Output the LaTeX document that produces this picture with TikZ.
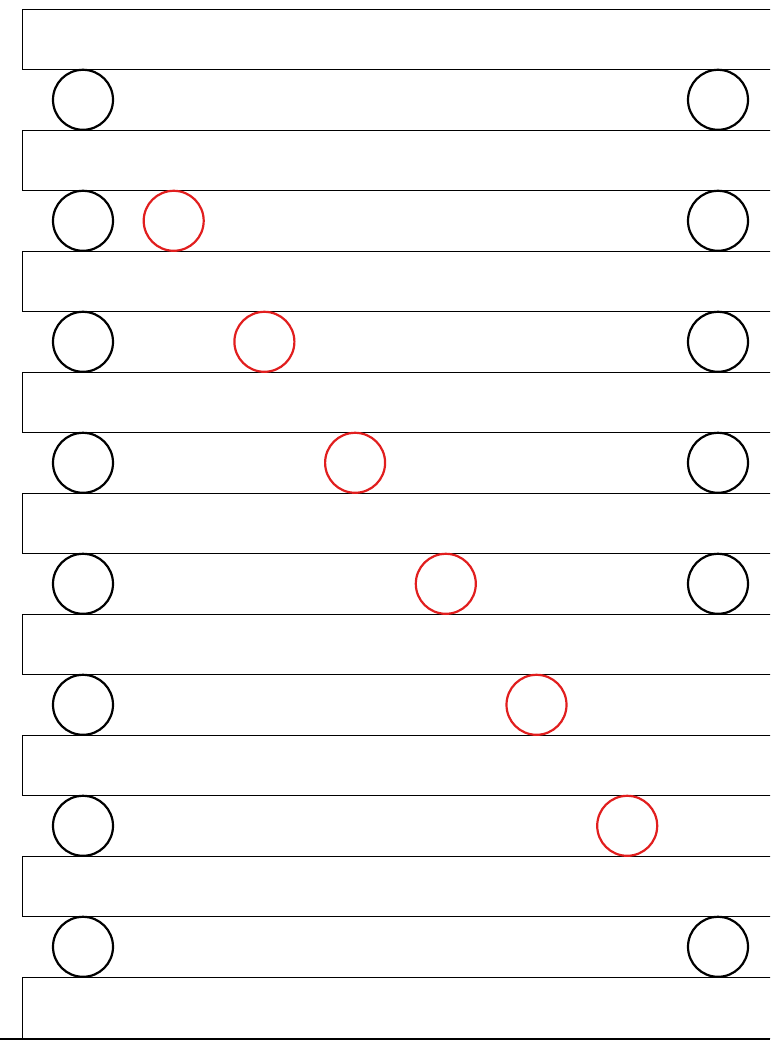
\documentclass[tikz,border=0pt]{standalone}
\usepackage{tikz}
\definecolor{ballred}{RGB}{225,30,30}

\begin{document}
\begin{tikzpicture}[x=1pt, y=-1pt,
  band/.style={draw, line width=0.9pt},
  ball/.style={draw, circle, line width=2.2pt, minimum size=60pt, inner sep=0pt},
  redball/.style={ball, draw=ballred}]
\clip (0,0) rectangle (770,1040);

% Slabs (open to the right)
\draw[band] (22,9) rectangle (800,69.5);
\draw[band] (22,130) rectangle (800,190.5);
\draw[band] (22,251) rectangle (800,311.5);
\draw[band] (22,372) rectangle (800,432.5);
\draw[band] (22,493) rectangle (800,553.5);
\draw[band] (22,614) rectangle (800,674.5);
\draw[band] (22,735) rectangle (800,795.5);
\draw[band] (22,856) rectangle (800,916.5);
\draw[band] (22,977) rectangle (800,1038.5);

% Left balls
\node[ball] (L1) at (83,99.8) {};
\node[ball] (L2) at (83,220.8) {};
\node[ball] (L3) at (83,341.8) {};
\node[ball] (L4) at (83,462.8) {};
\node[ball] (L5) at (83,583.8) {};
\node[ball] (L6) at (83,704.8) {};
\node[ball] (L7) at (83,825.8) {};
\node[ball] (L8) at (83,946.8) {};

% Right balls
\node[ball] (B1) at (718,99.8) {};
\node[ball] (B2) at (718,220.8) {};
\node[ball] (B3) at (718,341.8) {};
\node[ball] (B4) at (718,462.8) {};
\node[ball] (B5) at (718,583.8) {};
\node[ball] (B8) at (718,946.8) {};

% Moving ball, one step per row
\node[redball] (M2) at (173.7,220.8) {};
\node[redball] (M3) at (264.4,341.8) {};
\node[redball] (M4) at (355.1,462.8) {};
\node[redball] (M5) at (445.8,583.8) {};
\node[redball] (M6) at (536.5,704.8) {};
\node[redball] (M7) at (627.2,825.8) {};

% Floor
\coordinate (F0) at (0,1038.8);
\coordinate (F1) at (770,1038.8);
\draw[line width=2.6pt] (F0) -- (F1);

\end{tikzpicture}
\end{document}
